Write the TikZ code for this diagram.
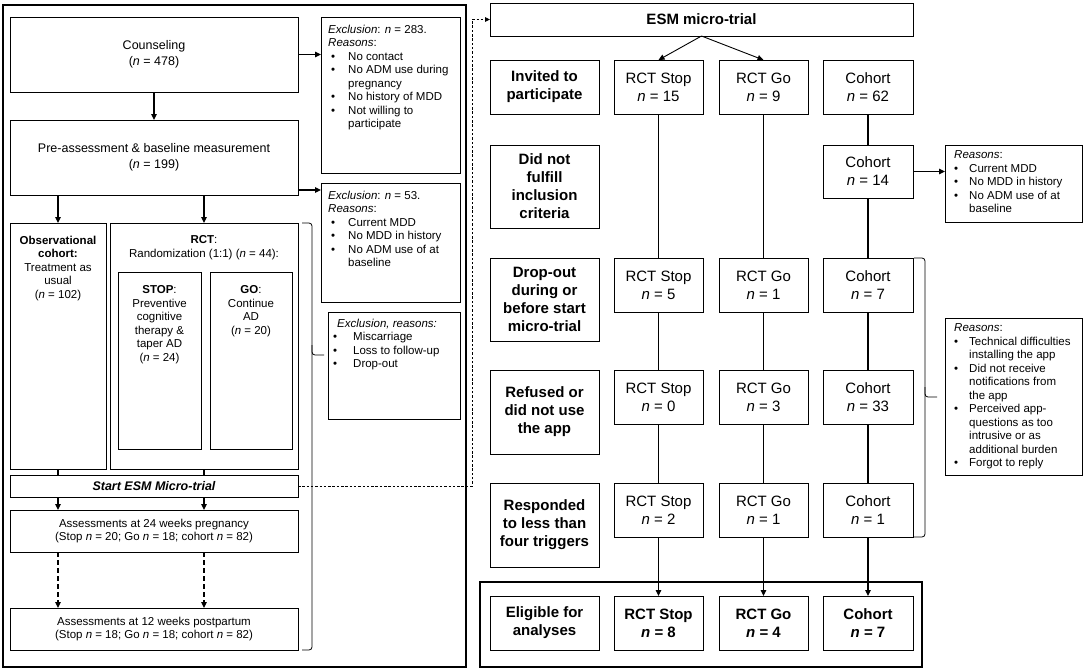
\documentclass[tikz,border=0pt]{standalone}
\usepackage{fontspec}
\setmainfont{Liberation Sans}
\usetikzlibrary{arrows.meta}
\newcommand\bl[1]{\makebox[#1][l]{\hspace{3pt}\textbullet}}
\newcommand\ind[1]{\hspace*{#1}}
\newcommand\bx[7][]{\node[box,#1,minimum width={(#5-#3)*1pt},minimum height={(#6-#4)*1pt}] (#2) at ({(#3+#5)/2},{(#4+#6)/2}) {#7};}
\tikzset{
  box/.style={draw, line width=0.8pt, inner sep=1pt, outer sep=0pt, align=center, font=\fontsize{11.5}{13.5}\selectfont},
  big/.style={font=\fontsize{15}{18}\selectfont},
  bigb/.style={font=\fontsize{15}{18}\selectfont\bfseries},
  midf/.style={font=\fontsize{12.5}{16}\selectfont},
  frame/.style={line width=1.8pt},
  txt/.style={inner sep=0pt, align=left, anchor=north west, font=\fontsize{11.5}{13.5}\selectfont},
  txtc/.style={inner sep=0pt, align=center, anchor=north, font=\fontsize{11.5}{13.5}\selectfont},
  arr/.style={line width=1.2pt, -{Triangle[length=6pt,width=5.5pt]}},
  ln/.style={line width=1.2pt},
  dasharr/.style={line width=1.2pt, dash pattern=on 5pt off 3pt, -{Triangle[length=6pt,width=5.5pt]}},
  dotconn/.style={line width=0.9pt, dash pattern=on 2.5pt off 1.8pt, -{Triangle[length=5pt,width=4.5pt]}},
  brace/.style={line width=0.8pt, rounded corners=3pt}
}
\begin{document}
\begin{tikzpicture}[x=1pt,y=-1pt]
\useasboundingbox (0,0) rectangle (1084,670);
% ---------- left part ----------
\bx[frame]{leftframe}{3}{5}{466}{667}{}
\bx[midf]{couns}{10}{17}{298}{92}{Counseling\\(\textit{n} = 478)}
\bx[midf]{pre}{10}{120}{298}{195}{Pre-assessment \& baseline measurement\\(\textit{n} = 199)}
\bx{exc1}{321}{17}{460}{173}{}
\node[txt] (exc1t) at (328,24.5) {\textit{Exclusion}: \textit{n} = 283.\\\textit{Reasons}:\\
\bl{20pt}No contact\\\bl{20pt}No ADM use during\\\ind{20pt}pregnancy\\\bl{20pt}No history of MDD\\\bl{20pt}Not willing to\\\ind{20pt}participate};
\bx{exc2}{321}{183}{460}{302}{}
\node[txt] (exc2t) at (328,190.5) {\textit{Exclusion}: \textit{n} = 53.\\\textit{Reasons}:\\
\bl{20pt}Current MDD\\\bl{20pt}No MDD in history\\\bl{20pt}No ADM use of at\\\ind{20pt}baseline};
\bx{obs}{10}{223}{106}{469}{}
\node[txtc] (obst) at (58,235.5) {\textbf{Observational}\\\textbf{cohort:}\\Treatment as\\usual\\(\textit{n} = 102)};
\bx{rct}{110}{223}{298}{469}{}
\node[txtc] (rctt) at (204,235.5) {\textbf{RCT}:\\Randomization (1:1) (\textit{n} = 44):};
\bx{stop}{118}{272}{201}{449}{}
\node[txtc] (stopt) at (159.5,285.5) {\textbf{STOP}:\\Preventive\\cognitive\\therapy \&\\taper AD\\(\textit{n} = 24)};
\bx{go}{210}{272}{292}{449}{}
\node[txtc] (got) at (251,285.5) {\textbf{GO}:\\Continue\\AD\\(\textit{n} = 20)};
\bx{exc3}{328}{312}{460}{419}{}
\node[txt] (exc3t) at (330,318.5) {\ind{7pt}\textit{Exclusion, reasons:}\\
\bl{23pt}Miscarriage\\\bl{23pt}Loss to follow-up\\\bl{23pt}Drop-out};
\bx[font=\fontsize{12.5}{15}\selectfont\bfseries\itshape]{startesm}{10}{475}{298}{497}{Start ESM Micro-trial}
\bx{a24}{10}{510}{298}{552}{Assessments at 24 weeks pregnancy\\(Stop \textit{n} = 20; Go \textit{n} = 18; cohort \textit{n} = 82)}
\bx{a12}{10}{608}{298}{650}{Assessments at 12 weeks postpartum\\(Stop \textit{n} = 18; Go \textit{n} = 18; cohort \textit{n} = 82)}
% left connectors
\draw[arr] (couns.south) -- (pre.north);
\draw[arr] (couns.east) -- (exc1.west |- couns.east);
\coordinate (p1) at ([yshift=5pt]pre.south east);
\draw[arr] (p1) -- (p1 -| exc2.west);
\draw[arr] (pre.south -| obs.north) -- (obs.north);
\draw[arr] (pre.south -| rct.north) -- (rct.north);
\draw[ln] (obs.south) -- (obs.south |- startesm.north);
\draw[ln] (rct.south) -- (rct.south |- startesm.north);
\draw[arr] (startesm.south -| obs.south) -- (a24.north -| obs.south);
\draw[arr] (startesm.south -| rct.south) -- (a24.north -| rct.south);
\draw[dasharr] (a24.south -| obs.south) -- (a12.north -| obs.south);
\draw[dasharr] (a24.south -| rct.south) -- (a12.north -| rct.south);
\draw[brace] ([xshift=4pt]rct.north east) -- (312,223) -- (312,355) -- (324,355);
\draw[brace] (312,345) -- (312,650) -- ([xshift=4pt]a12.south east);
% ---------- right part ----------
\bx[bigb]{esm}{490}{3}{913}{36}{ESM micro-trial}
\coordinate (dc) at (472,0);
\draw[dotconn] (startesm.east) -| (dc |- esm.west) -- (esm.west);
\bx[bigb]{l1}{490}{60}{599}{114}{Invited to\\participate}
\bx[big]{s1}{614}{60}{703}{114}{RCT Stop\\\textit{n} = 15}
\bx[big]{g1}{719}{60}{808}{114}{RCT Go\\\textit{n} = 9}
\bx[big]{c1}{823}{60}{913}{114}{Cohort\\\textit{n} = 62}
\bx[bigb]{l2}{490}{145}{599}{228}{Did not\\fulfill\\inclusion\\criteria}
\bx[big]{c2}{823}{145}{913}{198}{Cohort\\\textit{n} = 14}
\bx[bigb]{l3}{490}{258}{599}{341}{Drop-out\\during or\\before start\\micro-trial}
\bx[big]{s3}{614}{258}{703}{312}{RCT Stop\\\textit{n} = 5}
\bx[big]{g3}{719}{258}{808}{312}{RCT Go\\\textit{n} = 1}
\bx[big]{c3}{823}{258}{913}{312}{Cohort\\\textit{n} = 7}
\bx[bigb]{l4}{490}{370}{599}{454}{Refused or\\did not use\\the app}
\bx[big]{s4}{614}{370}{703}{424}{RCT Stop\\\textit{n} = 0}
\bx[big]{g4}{719}{370}{808}{424}{RCT Go\\\textit{n} = 3}
\bx[big]{c4}{823}{370}{913}{424}{Cohort\\\textit{n} = 33}
\bx[bigb]{l5}{490}{483}{599}{567}{Responded\\to less than\\four triggers}
\bx[big]{s5}{614}{483}{703}{537}{RCT Stop\\\textit{n} = 2}
\bx[big]{g5}{719}{483}{808}{537}{RCT Go\\\textit{n} = 1}
\bx[big]{c5}{823}{483}{913}{537}{Cohort\\\textit{n} = 1}
\bx[frame]{elig}{480}{582}{922}{667}{}
\bx[bigb]{l6}{490}{596}{599}{650}{Eligible for\\analyses}
\bx[bigb]{s6}{614}{596}{703}{650}{RCT Stop\\\textit{n} = 8}
\bx[bigb]{g6}{719}{596}{808}{650}{RCT Go\\\textit{n} = 4}
\bx[bigb]{c6}{823}{596}{913}{650}{Cohort\\\textit{n} = 7}
\bx{r1}{945}{145}{1082}{222}{}
\node[txt] (r1t) at (951,150.5) {\ind{3pt}\textit{Reasons}:\\
\bl{18pt}Current MDD\\\bl{18pt}No MDD in history\\\bl{18pt}No ADM use of at\\\ind{18pt}baseline};
\bx{r2}{945}{318}{1082}{475}{}
\node[txt] (r2t) at (951,323.5) {\ind{3pt}\textit{Reasons}:\\
\bl{18pt}Technical difficulties\\\ind{18pt}installing the app\\\bl{18pt}Did not receive\\\ind{18pt}notifications from\\\ind{18pt}the app\\\bl{18pt}Perceived app-\\\ind{18pt}questions as too\\\ind{18pt}intrusive or as\\\ind{18pt}additional burden\\\bl{18pt}Forgot to reply};
% right connectors
\draw[arr, line width=0.9pt] (esm.south) -- (s1.north);
\draw[arr, line width=0.9pt] (esm.south) -- (g1.north);
\draw[ln] (s1.south) -- (s3.north);
\draw[ln] (s3.south) -- (s4.north);
\draw[ln] (s4.south) -- (s5.north);
\draw[arr] (s5.south) -- (s6.north);
\draw[ln] (g1.south) -- (g3.north);
\draw[ln] (g3.south) -- (g4.north);
\draw[ln] (g4.south) -- (g5.north);
\draw[arr] (g5.south) -- (g6.north);
\draw[ln] (c1.south) -- (c2.north);
\draw[ln] (c2.south) -- (c3.north);
\draw[ln] (c3.south) -- (c4.north);
\draw[ln] (c4.south) -- (c5.north);
\draw[arr] (c5.south) -- (c6.north);
\draw[arr] (c2.east) -- (r1.west |- c2.east);
\draw[brace] ([xshift=1pt]c3.north east) -- (925,258) -- (925,397) -- (937,397);
\draw[brace] (925,387) -- (925,537) -- ([xshift=1pt]c5.south east);
\end{tikzpicture}
\end{document}
